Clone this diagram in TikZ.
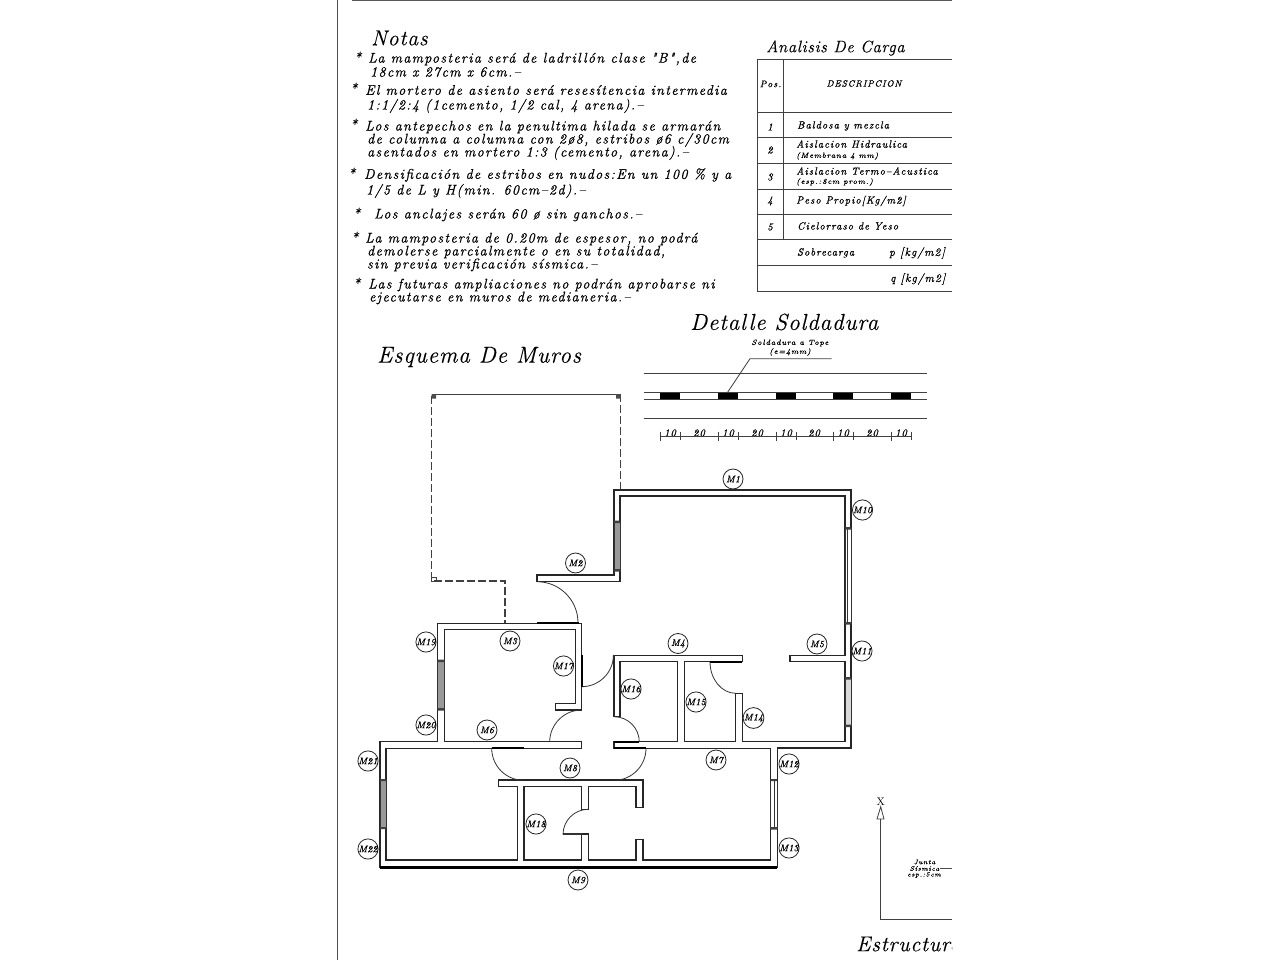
\documentclass[tikz,border=0pt]{standalone}
\usepackage{fontspec}
\setmainfont{Latin Modern Roman}
\newfontfamily\notafont[LetterSpace=10,FakeBold=0.8]{Latin Modern Roman}
\newfontfamily\titfont[LetterSpace=4,FakeBold=0.2]{Latin Modern Roman}
\newfontfamily\etifont[LetterSpace=2,FakeBold=1]{Latin Modern Roman}
\newcommand{\fnota}{\notafont\itshape\fontsize{14}{14}\selectfont}
\newcommand{\ftabla}{\notafont\itshape\fontsize{10.4}{10.4}\selectfont}
\newcommand{\fchica}{\notafont\itshape\fontsize{7.5}{7.5}\selectfont}
\newcommand{\fjunta}{\notafont\itshape\fontsize{6.5}{6.5}\selectfont}
\newcommand{\fmuro}{\etifont\itshape\fontsize{9.5}{9.5}\selectfont}
\tikzset{
  muro/.style={draw=black!85,line width=1.1pt,line join=miter},
  grueso/.style={draw=black,line width=2.2pt},
  puerta/.style={draw=black!80,line width=.8pt},
  ventana/.style={draw=black!80,line width=.7pt,fill=black!40},
  tapa/.style={fill=black!75},
  rayas/.style={draw=black!75,line width=1.1pt,dash pattern=on 8pt off 3pt},
  linea/.style={draw=black!75,line width=1pt},
  nota/.style={anchor=west,inner sep=0pt,font=\fnota},
  tabla/.style={anchor=west,inner sep=0pt,font=\ftabla},
  chica/.style={inner sep=0pt,font=\fchica},
  titulo/.style={anchor=west,inner sep=0pt,font=\titfont\itshape\fontsize{23}{23}\selectfont},
  etiqueta/.style={circle,draw=black!85,line width=.8pt,minimum size=20pt,inner sep=0pt,font=\fmuro},
}
\begin{document}
\begin{tikzpicture}[x=1pt,y=1pt,yscale=-1]
  \fill[white] (0,0) rectangle (1280,960);
  \useasboundingbox (0,0) rectangle (1280,960);
  \begin{scope}
  \clip (0,0) rectangle (952,960);
  \draw[line width=1pt,black!70] (337,0) -- (337,960);
  \draw[line width=2pt,black!65] (352,0.5) -- (952,0.5);
  % notas
  \node[titulo,font=\titfont\itshape\fontsize{21.6}{21.6}\selectfont] (notas) at (371,38) {Notas};
  \node[nota] (b1) at (354,57) {*};
  \node[nota] (n1a) at (368,59) {La mamposteria será de ladrillón clase "B",de};
  \node[nota] (n1b) at (370,72) {18cm x 27cm x 6cm.–};
  \node[nota] (b2) at (350,88) {*};
  \node[nota] (n2a) at (365,90) {El mortero de asiento será resesítencia intermedia};
  \node[nota] (n2b) at (367,106) {1:1/2:4 (1cemento, 1/2 cal, 4 arena).–};
  \node[nota] (b3) at (350,124) {*};
  \node[nota] (n3a) at (365,127) {Los antepechos en la penultima hilada se armarán};
  \node[nota] (n3b) at (367,140) {de columna a columna con 2ø8, estribos ø6 c/30cm};
  \node[nota] (n3c) at (367,153) {asentados en mortero 1:3 (cemento, arena).–};
  \node[nota] (b4) at (348,173) {*};
  \node[nota] (n4a) at (364,175) {Densificación de estribos en nudos:En un 100 \% y a};
  \node[nota] (n4b) at (366,191) {1/5 de L y H(min. 60cm–2d).–};
  \node[nota] (b5) at (353,213) {*};
  \node[nota] (n5a) at (374,215) {Los anclajes serán 60 ø sin ganchos.–};
  \node[nota] (b6) at (351,237) {*};
  \node[nota] (n6a) at (365,239) {La mamposteria de 0.20m de espesor, no podrá};
  \node[nota] (n6b) at (367,252) {demolerse parcialmente o en su totalidad,};
  \node[nota] (n6c) at (367,265) {sin previa verificación sísmica.–};
  \node[nota] (b7) at (353,283) {*};
  \node[nota] (n7a) at (368,285) {Las futuras ampliaciones no podrán aprobarse ni};
  \node[nota] (n7b) at (369,298) {ejecutarse en muros de medianeria.–};
  % analisis de carga
  \node[titulo,font=\titfont\itshape\fontsize{16.6}{16.6}\selectfont] (analisis) at (766,48) {Analisis De Carga};
  \draw[linea] (952,60) -- (757.3,60) -- (757.3,291.7) -- (952,291.7);
  \draw[linea] (783.3,60) -- (783.3,240);
  \foreach \ya in {112.3,137.7,163.3,189.3,215}
    \draw[linea] (757.3,\ya) -- (952,\ya);
  \draw[linea] (757.3,240) -- (952,240) (757.3,266) -- (952,266);
  \node[tabla,anchor=center,font=\notafont\itshape\fontsize{9.5}{9.5}\selectfont] (pos) at (770.5,84) {Pos.};
  \node[tabla,anchor=center,font=\notafont\itshape\fontsize{9}{9}\selectfont] (descripcion) at (864,83.5) {DESCRIPCION};
  \node[tabla,anchor=center] (p1) at (770,127) {1};
  \node[tabla,anchor=center] (p2) at (770,150) {2};
  \node[tabla,anchor=center] (p3) at (770,177) {3};
  \node[tabla,anchor=center] (p4) at (770,201) {4};
  \node[tabla,anchor=center] (p5) at (770,227) {5};
  \node[tabla] (t1) at (797,126) {Baldosa y mezcla};
  \node[tabla] (t2a) at (796,144) {Aislacion Hidraulica};
  \node[chica,anchor=west] (t2b) at (796,156) {(Membrana 4 mm)};
  \node[tabla] (t3a) at (796,171) {Aislacion Termo–Acustica};
  \node[chica,anchor=west] (t3b) at (796,182) {(esp.:8cm prom.)};
  \node[tabla] (t4) at (796,201) {Peso Propio[Kg/m2]};
  \node[tabla] (t5) at (797,226) {Cielorraso de Yeso};
  \node[tabla] (t6) at (797,253) {Sobrecarga};
  \node[tabla,font=\notafont\itshape\fontsize{11.5}{11.5}\selectfont] (t6b) at (889,253) {p [kg/m2]};
  \node[tabla,font=\notafont\itshape\fontsize{11.5}{11.5}\selectfont] (t7) at (890,279) {q [kg/m2]};
  % detalle soldadura
  \node[titulo] (detalle) at (690,322) {Detalle Soldadura};
  \node[chica] (sold1) at (790,343) {Soldadura a Tope};
  \node[chica] (sold2) at (790,352) {(e=4mm)};
  \draw[linea,line width=.8pt] (831.7,358.7) -- (750,358.7) -- (727.3,392.7);
  \foreach \ya in {373.3,392.7,399.3,418.3}
    \draw[linea,line width=.8pt] (644.3,\ya) -- (926.7,\ya);
  \foreach \xa in {660,718,776,833,891}{
    \fill[black] (\xa,392.7) rectangle +(20,6.6);
    \draw[linea,line width=.7pt] (\xa,431.5) -- (\xa,440.5) (\xa+20,432) -- (\xa+20,440);
    \node[chica,font=\ftabla] (c\xa) at (\xa+10,433) {10};
  }
  \foreach \xa in {699,757,814,872}
    \node[chica,font=\ftabla] (d\xa) at (\xa,433) {20};
  \draw[linea,line width=.7pt] (660,436) -- (911,436);
  % esquema de muros
  \node[titulo,font=\titfont\itshape\fontsize{23}{23}\selectfont] (esquema) at (377,357) {Esquema De Muros};
  \draw[rayas] (620.5,490) -- (620.5,394.5) -- (431.7,394.5) -- (431.7,581) -- (505,581) -- (505,623);
  \draw[line width=.7pt,black!75] (431.7,394.5) -- (620.5,394.5);
  \fill[black!70] (431.7,394) rectangle +(4.5,4.5) (616,394) rectangle +(4.5,4.5);
  \draw[line width=.6pt,black!75] (431.7,577) rectangle (436,581);
  \draw[muro] (614,490) -- (851,490) -- (851,748) -- (777.3,748) -- (777.3,867.5) -- (380,867.5)
    -- (380,741.7) -- (437.7,741.7) -- (437.7,623.3) -- (581.7,623.3) -- (581.7,710)
    -- (555.7,710) -- (555.7,703.3) -- (575.7,703.3) -- (575.7,629.3) -- (444.3,629.3)
    -- (444.3,741.7) -- (581.7,741.7) -- (581.7,748.3) -- (386,748.3) -- (386,860)
    -- (517.7,860) -- (517.7,786.7) -- (498.3,786.7) -- (498.3,780) -- (643,780)
    -- (643,807.7) -- (636,807.7) -- (636,786.7) -- (588.3,786.7) -- (588.3,809.3)
    -- (581.7,809.3) -- (581.7,786.7) -- (524,786.7) -- (524,860) -- (581.7,860)
    -- (581.7,834) -- (588.3,834) -- (588.3,860) -- (636,860) -- (636,839.3) -- (643,839.3)
    -- (643,860) -- (770.7,860) -- (770.7,748.3) -- (614,748.3) -- (614,741.7) -- (677.7,741.7)
    -- (677.7,661.7) -- (620,661.7) -- (620,716.7) -- (614,716.7) -- (614,655.7) -- (742.3,655.7)
    -- (742.3,661.7) -- (684.3,661.7) -- (684.3,741.7) -- (735.7,741.7) -- (735.7,693.3)
    -- (742.3,693.3) -- (742.3,741.7) -- (845,741.7) -- (845,661.7) -- (790,661.7) -- (790,655.7)
    -- (845,655.7) -- (845,496) -- (620,496) -- (620,581.7) -- (537,581.7) -- (537,575)
    -- (614,575) -- cycle;
  % ventanas
  \draw[ventana] (614,522) rectangle (620,570);
  \draw[ventana] (437.7,660.7) rectangle (444.3,709.3);
  \draw[ventana] (380,780) rectangle (386,828);
  \draw[ventana,fill=white] (845,528.3) rectangle (851,623.3);
  \draw[ventana,fill=black!15] (845,678.3) rectangle (851,725.7);
  \draw[ventana,fill=white] (770.7,780) rectangle (777.3,828.3);
  \draw[puerta] (847.5,528.3) -- (847.5,623.3) (774,780) -- (774,828.3);
  \fill[tapa] (614,520.5) rectangle (620,523) (614,569) rectangle (620,571.5);
  \fill[tapa] (437.7,659.5) rectangle (444.3,662) (437.7,708) rectangle (444.3,710.5);
  \fill[tapa] (380,779) rectangle (386,781) (380,827) rectangle (386,829);
  \fill[tapa] (845,527) rectangle (851,529.5) (845,622) rectangle (851,624.5);
  \fill[tapa] (845,677) rectangle (851,679.5) (845,724.5) rectangle (851,727);
  \fill[tapa] (770.7,779) rectangle (777.3,781) (770.7,827) rectangle (777.3,829.5);
  % puertas
  \draw[puerta] (537,581.7) arc (270:360:41pt);
  \draw[puerta] (581.7,686.7) arc (90:0:31.7pt);
  \draw[puerta] (581.7,710) arc (270:180:32pt);
  \draw[puerta] (491.7,748.3) arc (180:90:32pt);
  \draw[puerta] (614,716.7) arc (270:360:25.3pt);
  \draw[puerta] (646,748.3) arc (0:90:32pt);
  \draw[puerta] (710,661.7) arc (180:90:25.7pt and 31.6pt);
  \draw[puerta] (588.3,809.3) arc (270:180:25.3pt);
  \draw[puerta,line width=1.1pt] (563,834) -- (581.7,834);
  \draw[grueso] (537,623.3) -- (578.7,623.3);
  \draw[grueso] (581.7,655) -- (581.7,686.7);
  \draw[grueso] (491.7,748.3) -- (524,748.3);
  \draw[grueso] (614,741.7) -- (639.3,741.7);
  \draw[grueso] (614,748.3) -- (646,748.3);
  \draw[grueso] (710,661.7) -- (742.3,661.7);
  \draw[grueso] (380,867.5) -- (777.3,867.5);
  % muros
  \node[etiqueta] (m1) at (733,479) {M1};
  \node[etiqueta] (m2) at (575.5,563) {M2};
  \node[etiqueta] (m3) at (510,641) {M3};
  \node[etiqueta] (m4) at (678,643.5) {M4};
  \node[etiqueta] (m5) at (817,644) {M5};
  \node[etiqueta] (m6) at (487,730) {M6};
  \node[etiqueta] (m7) at (716,760) {M7};
  \node[etiqueta] (m8) at (570,768) {M8};
  \node[etiqueta] (m9) at (578,880) {M9};
  \node[etiqueta] (m10) at (862.5,510) {M10};
  \node[etiqueta] (m11) at (862,651) {M11};
  \node[etiqueta] (m12) at (789,764) {M12};
  \node[etiqueta] (m13) at (789,848) {M13};
  \node[etiqueta] (m14) at (753.5,718) {M14};
  \node[etiqueta] (m15) at (696,702) {M15};
  \node[etiqueta] (m16) at (631,689) {M16};
  \node[etiqueta] (m17) at (563.5,666) {M17};
  \node[etiqueta] (m18) at (536,824) {M18};
  \node[etiqueta] (m19) at (426,642) {M19};
  \node[etiqueta] (m20) at (426,725) {M20};
  \node[etiqueta] (m21) at (368,761) {M21};
  \node[etiqueta] (m22) at (368,849) {M22};
  % junta sismica
  \node[inner sep=0pt,font=\fontsize{11}{11}\selectfont] (ejex) at (880.7,802) {X};
  \draw[linea,line width=.8pt] (880.7,806.7) -- (884,819) -- (877,819) -- cycle;
  \draw[linea,line width=.8pt] (880.7,819) -- (880.7,919.3) -- (952,919.3);
  \node[chica,font=\fjunta] (j1) at (924.5,862) {Junta};
  \node[chica,font=\fjunta] (j2) at (924.5,868.5) {Sísmica};
  \node[chica,font=\fjunta] (j3) at (924,875) {esp.:5cm};
  \draw[line width=.5pt,black!70] (j2.east) ++(1,0) -- (952,868.5);
  \node[titulo,font=\titfont\itshape\fontsize{21.5}{21.5}\selectfont] (estructura) at (856,944) {Estructura};
  \end{scope}
\end{tikzpicture}
\end{document}
